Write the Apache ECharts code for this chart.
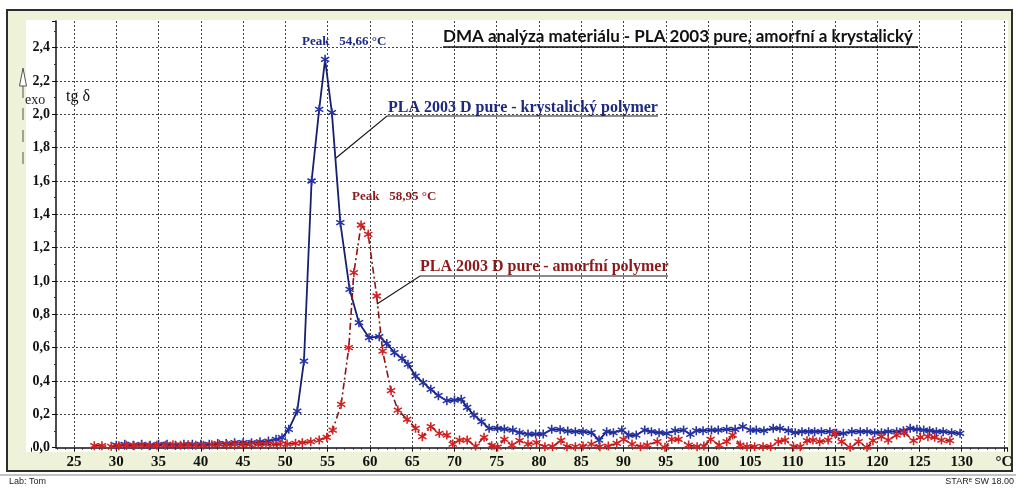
<!DOCTYPE html>
<html>
<head>
<meta charset="utf-8">
<script src="https://cdn.jsdelivr.net/npm/echarts@6.0.0/dist/echarts.min.js"></script>
<style>
  html, body { margin: 0; padding: 0; background: #fff; }
  #chart { width: 1016px; height: 490px; }
</style>
</head>
<body>
<div id="chart"></div>
<script>
// PLA 2003 D pure - krystalicky polymer (teplota °C, tg delta)
const blueTemp = [30, 31, 32, 33, 34, 35, 36, 37, 38, 39, 40, 41, 42, 43, 44, 45, 46, 47, 48, 48.9,
  49.6, 50.4, 51.4, 52.2, 53.1, 54.0, 54.7, 55.5, 56.5, 57.6, 58.7, 59.9, 61.1, 62.0, 62.9, 63.8,
  64.5, 65.4, 66.3, 67.2, 68.1, 69.1, 70.0, 70.8, 71.5, 72.3, 73.2, 74.1, 75.1, 75.9, 76.9, 77.7,
  78.7, 79.6, 80.5, 81.5, 82.5, 83.4, 84.3, 85.2, 86.2, 87.1, 88.0, 88.8, 89.8, 90.6, 91.5, 92.5,
  93.3, 94.2, 95.1, 96.1, 97.1, 97.9, 98.6, 99.4, 100.4, 101.2, 102.2, 103.2, 104.1, 105.0, 105.7,
  106.6, 107.7, 108.5, 109.5, 110.3, 111.1, 111.9, 112.6, 113.4, 114.4, 115.2, 116.0, 117.0, 118.0,
  118.8, 119.7, 120.5, 121.3, 122.3, 123.1, 123.9, 124.7, 125.5, 126.2, 127.0, 127.8, 128.8, 129.8]
const blueTan = [0.015, 0.02, 0.015, 0.02, 0.015, 0.02, 0.02, 0.015, 0.02, 0.02, 0.02, 0.02, 0.025, 0.025, 0.03, 0.03, 0.03, 0.035, 0.04, 0.05,
  0.06, 0.11, 0.22, 0.52, 1.60, 2.03, 2.33, 2.01, 1.35, 0.95, 0.75, 0.66, 0.666, 0.625, 0.57, 0.536,
  0.50, 0.43, 0.39, 0.35, 0.312, 0.282, 0.286, 0.29, 0.242, 0.196, 0.156, 0.116, 0.116, 0.112, 0.106, 0.09,
  0.082, 0.082, 0.082, 0.11, 0.108, 0.10, 0.096, 0.096, 0.09, 0.046, 0.096, 0.09, 0.106, 0.076, 0.076, 0.106,
  0.096, 0.09, 0.086, 0.102, 0.106, 0.08, 0.102, 0.102, 0.106, 0.106, 0.11, 0.11, 0.126, 0.106, 0.106,
  0.102, 0.116, 0.116, 0.102, 0.09, 0.096, 0.096, 0.096, 0.096, 0.096, 0.086, 0.086, 0.096, 0.096,
  0.096, 0.09, 0.09, 0.096, 0.096, 0.102, 0.116, 0.11, 0.106, 0.102, 0.096, 0.096, 0.09, 0.086]

// PLA 2003 D pure - amorfni polymer
const redTemp = [27.4, 28.3, 29.4, 30.3, 31.2, 32.1, 33.0, 33.9, 34.8, 35.8, 36.7, 37.6, 38.5, 39.4, 40.3,
  41.3, 42.2, 43.1, 44.0, 44.9, 45.8, 46.8, 47.7, 48.6, 49.4, 50.2, 51.2, 52.0, 53.0, 54.0, 54.9, 55.6,
  56.6, 57.5, 58.1, 58.95, 59.8, 60.8, 61.5, 62.5, 63.3, 64.4, 65.4, 66.2, 67.2, 68.2, 69.1, 69.8, 70.6,
  71.5, 72.5, 73.5, 74.4, 75.1, 75.9, 76.8, 77.7, 78.7, 79.7, 80.7, 81.6, 82.6, 83.3, 84.3, 85.2, 86.2,
  87.2, 88.2, 89.2, 90.0, 91.0, 92.0, 92.8, 94.0, 94.9, 95.7, 96.5, 97.7, 98.7, 99.5, 100.3, 101.3, 102.2,
  102.9, 103.8, 104.6, 105.5, 106.5, 107.4, 108.3, 109.1, 110.1, 110.9, 111.7, 112.4, 113.2, 114.2, 115.0,
  115.8, 116.8, 117.8, 118.8, 119.5, 120.5, 121.3, 122.3, 123.2, 124.3, 125.1, 126.0, 126.8, 127.6, 128.6]
const redTan = [0.012, 0.012, 0.008, 0.012, 0.015, 0.012, 0.015, 0.012, 0.015, 0.015, 0.018, 0.015, 0.018, 0.015, 0.015,
  0.018, 0.02, 0.018, 0.02, 0.018, 0.02, 0.02, 0.022, 0.02, 0.022, 0.022, 0.026, 0.03, 0.036, 0.046, 0.062, 0.106,
  0.26, 0.60, 1.05, 1.336, 1.28, 0.91, 0.58, 0.342, 0.226, 0.17, 0.116, 0.066, 0.126, 0.086, 0.076, 0.022, 0.046,
  0.046, 0.01, 0.062, 0.012, 0.004, 0.05, 0.016, 0.042, 0.022, 0.03, 0.006, 0.006, 0.044, 0.006, 0.006, 0.01, 0.022,
  0.006, 0.01, 0.026, 0.05, 0.022, 0.006, 0.016, 0.036, 0.002, 0.05, 0.05, 0.016, 0.006, 0.01, 0.05, 0.016, 0.036,
  0.076, 0.016, 0.006, 0.006, 0.006, 0.006, 0.036, 0.046, 0.006, 0.006, 0.042, 0.046, 0.036, 0.046, 0.086,
  0.036, 0.002, 0.036, 0.002, 0.042, 0.066, 0.046, 0.076, 0.09, 0.042, 0.062, 0.066, 0.062, 0.046, 0.042]

const tempTicks = { min: 20, max: 135.4, step: 5 }
const tanTicks = { min: 0, max: 2.56, step: 0.2 }

const serif = 'Liberation Serif'
// hvezdicka jako znacka
const STAR = 'path://M-1,-6L1,-6L1,6L-1,6Z M4.696,-3.866L5.696,-2.134L-4.696,3.866L-5.696,2.134Z M5.696,2.134L4.696,3.866L-5.696,-2.134L-4.696,-3.866Z'

const zip = (a, b) => a.map((x, i) => [x, b[i]])

const chart = echarts.init(document.getElementById('chart'), null, { renderer: 'canvas' })

const gridTop = 21
const gridBottom = 42.3
const gridRight = 8.6

chart.setOption({
  animation: false,
  backgroundColor: '#fff',
  grid: [
    // jen popisky a svisla mrizka osy x
    { left: 31.7, right: gridRight, top: gridTop, bottom: gridBottom },
    // hlavni graf
    { left: 56, right: gridRight, top: gridTop, bottom: gridBottom }
  ],
  xAxis: [
    {
      gridIndex: 0,
      type: 'value',
      min: tempTicks.min,
      max: tempTicks.max,
      interval: tempTicks.step,
      axisLine: { show: false },
      axisTick: { show: true, length: 4, lineStyle: { color: '#111' } },
      minorTick: { show: true, splitNumber: 5, length: 2, lineStyle: { color: '#333' } },
      axisLabel: {
        margin: 7,
        showMinLabel: false,
        showMaxLabel: false,
        fontFamily: serif,
        fontWeight: 'bold',
        fontSize: 15,
        color: '#111',
        formatter: v => (v === 135 ? '°C' : String(v))
      },
      splitLine: {
        show: true,
        showMinLine: false,
        showMaxLine: false,
        lineStyle: { color: '#444', width: 1, type: [2, 2] }
      }
    },
    {
      gridIndex: 1,
      type: 'value',
      min: 22.87,
      max: tempTicks.max,
      axisLine: { show: true, onZero: false, lineStyle: { color: '#111', width: 1.5 } },
      axisTick: { show: false },
      axisLabel: { show: false },
      splitLine: { show: false }
    }
  ],
  yAxis: [
    {
      gridIndex: 0,
      type: 'value',
      min: tanTicks.min,
      max: tanTicks.max,
      show: false
    },
    {
      gridIndex: 1,
      type: 'value',
      min: tanTicks.min,
      max: tanTicks.max,
      interval: tanTicks.step,
      axisLine: { show: true, lineStyle: { color: '#111', width: 1.5 } },
      axisTick: { show: true, length: 4, lineStyle: { color: '#111' } },
      minorTick: { show: true, splitNumber: 2, length: 2, lineStyle: { color: '#333' } },
      axisLabel: {
        margin: 6,
        showMaxLabel: false,
        fontFamily: serif,
        fontWeight: 'bold',
        fontSize: 14,
        color: '#111',
        formatter: v => v.toFixed(1).replace('.', ',')
      },
      splitLine: {
        show: true,
        showMinLine: false,
        showMaxLine: false,
        lineStyle: { color: '#444', width: 1, type: [2, 2] }
      }
    }
  ],
  series: [
    {
      name: 'PLA 2003 D pure - krystalický polymer',
      type: 'line',
      xAxisIndex: 1,
      yAxisIndex: 1,
      data: zip(blueTemp, blueTan),
      symbol: STAR,
      symbolSize: 9,
      lineStyle: { color: '#17206e', width: 1.8 },
      itemStyle: { color: '#2633a8' },
      z: 3
    },
    {
      name: 'PLA 2003 D pure - amorfní polymer',
      type: 'line',
      xAxisIndex: 1,
      yAxisIndex: 1,
      data: zip(redTemp, redTan),
      symbol: STAR,
      symbolSize: 9,
      lineStyle: { color: '#8e1414', width: 1.6, type: [7, 3, 2, 3] },
      itemStyle: { color: '#d42020' },
      z: 4
    }
  ],
  graphic: [
    // ramecek a pozadi
    { type: 'rect', z: -10, silent: true, shape: { x: 7, y: 10, width: 1005, height: 461 },
      style: { fill: '#eef2d9', stroke: '#2e2e2e', lineWidth: 2 } },
    { type: 'rect', z: -9, silent: true, shape: { x: 26, y: 20, width: 982, height: 432 },
      style: { fill: '#fff' } },
    { type: 'line', z: -9, silent: true, shape: { x1: 0, y1: 475, x2: 1016, y2: 475 },
      style: { stroke: '#888', lineWidth: 1 } },
    { type: 'text', left: 9, top: 477, style: { text: 'Lab: Tom', font: '9px "Liberation Sans"', fill: '#222' } },
    { type: 'text', right: 2, top: 477, style: { text: 'STARᵉ SW 18.00', font: '9px "Liberation Sans"', fill: '#222' } },

    // nadpis
    { type: 'text', left: 443, top: 28, z: 10,
      style: { text: 'DMA analýza materiálu - PLA 2003 pure, amorfní a krystalický', font: 'bold 17px Lato', fill: '#111' } },
    { type: 'line', z: 10, shape: { x1: 443, y1: 47, x2: 918, y2: 47 }, style: { stroke: '#111', lineWidth: 1.5 } },

    // osa tg delta
    { type: 'text', left: 66, top: 89, z: 10, style: { text: 'tg δ', font: '16px "Liberation Serif"', fill: '#111' } },
    { type: 'text', left: 25, top: 93, z: 10, style: { text: 'exo', font: '14px "Liberation Serif"', fill: '#222' } },
    { type: 'polygon', z: 10, shape: { points: [[23, 68], [19.5, 86], [26.5, 86]] },
      style: { fill: '#fff', stroke: '#555', lineWidth: 1 } },
    { type: 'line', z: 10, shape: { x1: 23, y1: 86, x2: 23, y2: 172 },
      style: { stroke: '#555', lineWidth: 1, lineDash: [12, 10] } },

    // popisky piku
    { type: 'text', left: 302, top: 35, z: 10,
      style: { text: 'Peak   54,66 °C', font: 'bold 13px "Liberation Serif"', fill: '#1d2a80' } },
    { type: 'text', left: 352, top: 190, z: 10,
      style: { text: 'Peak   58,95 °C', font: 'bold 13px "Liberation Serif"', fill: '#8b1a1a' } },

    // popisky krivek
    { type: 'text', left: 388, top: 100, z: 10,
      style: { text: 'PLA 2003 D pure - krystalický polymer', font: 'bold 16px "Liberation Serif"', fill: '#1d2a80' } },
    { type: 'polyline', z: 10, shape: { points: [[336, 158], [387, 116], [658, 116]] },
      style: { stroke: '#1a1a1a', lineWidth: 1.2, fill: null } },
    { type: 'text', left: 420, top: 259, z: 10,
      style: { text: 'PLA 2003 D pure - amorfní polymer', font: 'bold 16px "Liberation Serif"', fill: '#8b1a1a' } },
    { type: 'polyline', z: 10, shape: { points: [[377, 304], [420, 276], [668, 276]] },
      style: { stroke: '#1a1a1a', lineWidth: 1.2, fill: null } }
  ]
})
</script>
</body>
</html>
